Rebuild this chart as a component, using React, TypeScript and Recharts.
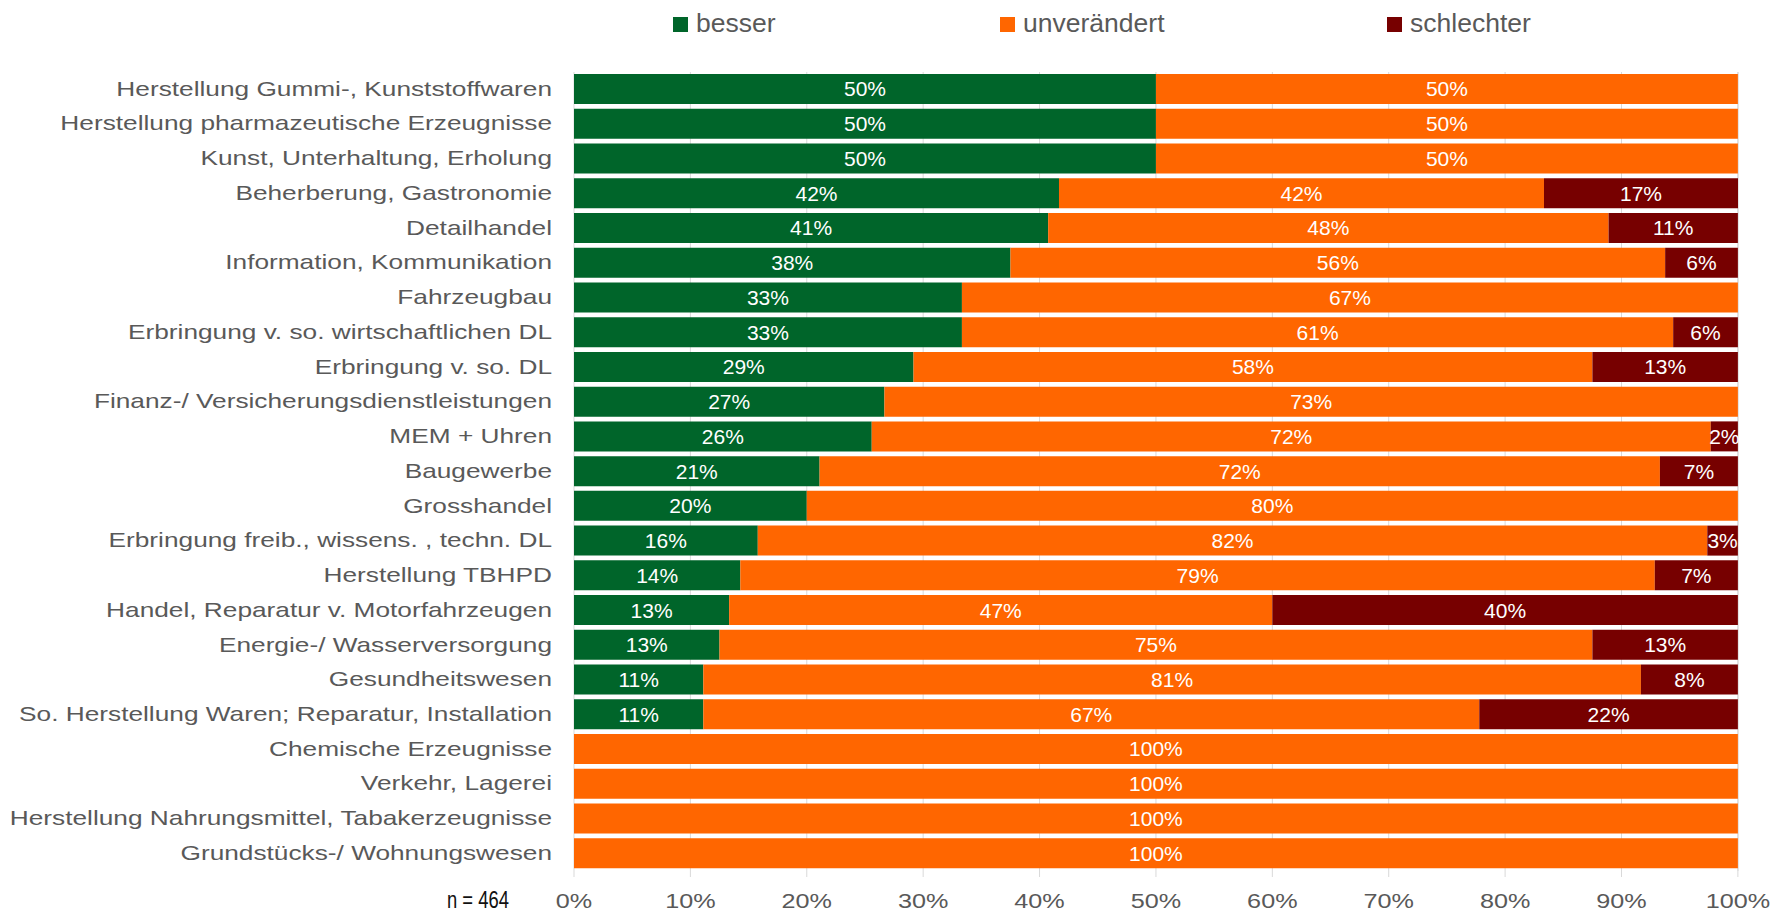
import { Bar, BarChart, CartesianGrid, LabelList, XAxis, YAxis } from "recharts"

const categories = [
  "Herstellung Gummi-, Kunststoffwaren",
  "Herstellung pharmazeutische Erzeugnisse",
  "Kunst, Unterhaltung, Erholung",
  "Beherberung, Gastronomie",
  "Detailhandel",
  "Information, Kommunikation",
  "Fahrzeugbau",
  "Erbringung  v. so. wirtschaftlichen DL",
  "Erbringung v. so. DL",
  "Finanz-/ Versicherungsdienstleistungen",
  "MEM + Uhren",
  "Baugewerbe",
  "Grosshandel",
  "Erbringung freib., wissens. , techn. DL",
  "Herstellung TBHPD",
  "Handel, Reparatur v. Motorfahrzeugen",
  "Energie-/ Wasserversorgung",
  "Gesundheitswesen",
  "So. Herstellung Waren; Reparatur, Installation",
  "Chemische Erzeugnisse",
  "Verkehr, Lagerei",
  "Herstellung Nahrungsmittel, Tabakerzeugnisse",
  "Grundstücks-/ Wohnungswesen"
]

const besser = [
  50, 50, 50, 41.67, 40.74, 37.5, 33.33, 33.33, 29.17, 26.67, 25.58, 21.1,
  20, 15.79, 14.29, 13.33, 12.5, 11.11, 11.11, 0, 0, 0, 0
]
const unveraendert = [
  50, 50, 50, 41.67, 48.15, 56.25, 66.67, 61.11, 58.33, 73.33, 72.09, 72.2,
  80, 81.58, 78.57, 46.67, 75, 80.56, 66.67, 100, 100, 100, 100
]
const schlechter = [
  0, 0, 0, 16.67, 11.11, 6.25, 0, 5.56, 12.5, 0, 2.33, 6.7, 0, 2.63, 7.14,
  40, 12.5, 8.33, 22.22, 0, 0, 0, 0
]

const xTicks = [0, 10, 20, 30, 40, 50, 60, 70, 80, 90, 100]

const seriesNames = ["besser", "unverändert", "schlechter"]
const colors = ["#00652a", "#ff6600", "#770000"]

const data = categories.map((name, i) => ({
  name,
  besser: besser[i],
  unveraendert: unveraendert[i],
  schlechter: schlechter[i]
}))

const sans = "'Liberation Sans', Arial, sans-serif"
const gray = "#595959"

const pct = (v: any) => (Number(v) > 0 ? `${Math.round(Number(v))}%` : "")

// the source text is drawn a bit wider than its height, so stretch it
const YTick = ({ x, y, payload }: any) => (
  <g transform={`translate(${x},${y}) scale(1.25,1)`}>
    <text x={0} y={0} dy="0.3em" textAnchor="end" fill={gray} fontSize={21} fontFamily={sans}>
      {payload.value}
    </text>
  </g>
)

const XTick = ({ x, y, payload }: any) => (
  <g transform={`translate(${x},${y + 31}) scale(1.2,1)`}>
    <text x={0} y={0} textAnchor="middle" fill={gray} fontSize={21} fontFamily={sans}>
      {`${payload.value}%`}
    </text>
  </g>
)

const Legend = () => {
  const lefts = [673, 1000, 1387]
  return (
    <>
      {seriesNames.map((s, i) => (
        <div key={s}>
          <div
            style={{
              position: "absolute",
              left: lefts[i],
              top: 17,
              width: 15,
              height: 15,
              background: colors[i]
            }}
          />
          <div
            style={{
              position: "absolute",
              left: lefts[i] + 23,
              top: 8,
              lineHeight: "30px",
              fontFamily: sans,
              fontSize: 26,
              color: gray,
              transform: "scaleX(1.02)",
              transformOrigin: "left center",
              whiteSpace: "nowrap"
            }}
          >
            {s}
          </div>
        </div>
      ))}
    </>
  )
}

const App = () => {
  return (
    <div style={{ position: "absolute", left: 0, top: 0, width: 1776, height: 912, background: "#fff" }}>
      <Legend />
      <BarChart
        width={1776}
        height={912}
        data={data}
        layout="vertical"
        barSize={30}
        margin={{ top: 72, right: 38, left: 0, bottom: 0 }}
      >
        <CartesianGrid horizontal={false} stroke="#d9d9d9" />
        <XAxis
          type="number"
          domain={[0, 100]}
          ticks={xTicks}
          axisLine={false}
          tickLine={{ stroke: "#d9d9d9" }}
          tickSize={6}
          tickMargin={0}
          height={41}
          tick={<XTick />}
          interval={0}
        />
        <YAxis
          type="category"
          dataKey="name"
          width={574}
          axisLine={false}
          tickLine={false}
          tickSize={0}
          tickMargin={22}
          interval={0}
          tick={<YTick />}
        />
        <Bar dataKey="besser" stackId="a" fill={colors[0]} isAnimationActive={false}>
          <LabelList dataKey="besser" position="center" formatter={pct} fill="#fff" fontSize={21} fontFamily={sans} />
        </Bar>
        <Bar dataKey="unveraendert" stackId="a" fill={colors[1]} isAnimationActive={false}>
          <LabelList dataKey="unveraendert" position="center" formatter={pct} fill="#fff" fontSize={21} fontFamily={sans} />
        </Bar>
        <Bar dataKey="schlechter" stackId="a" fill={colors[2]} isAnimationActive={false}>
          <LabelList dataKey="schlechter" position="center" formatter={pct} fill="#fff" fontSize={21} fontFamily={sans} />
        </Bar>
      </BarChart>
      <div
        style={{
          position: "absolute",
          left: 447,
          top: 887,
          lineHeight: "26px",
          fontFamily: sans,
          fontSize: 23,
          color: "#111",
          transform: "scaleX(0.8)",
          transformOrigin: "left center",
          whiteSpace: "nowrap"
        }}
      >
        n = 464
      </div>
    </div>
  )
}

export default App
